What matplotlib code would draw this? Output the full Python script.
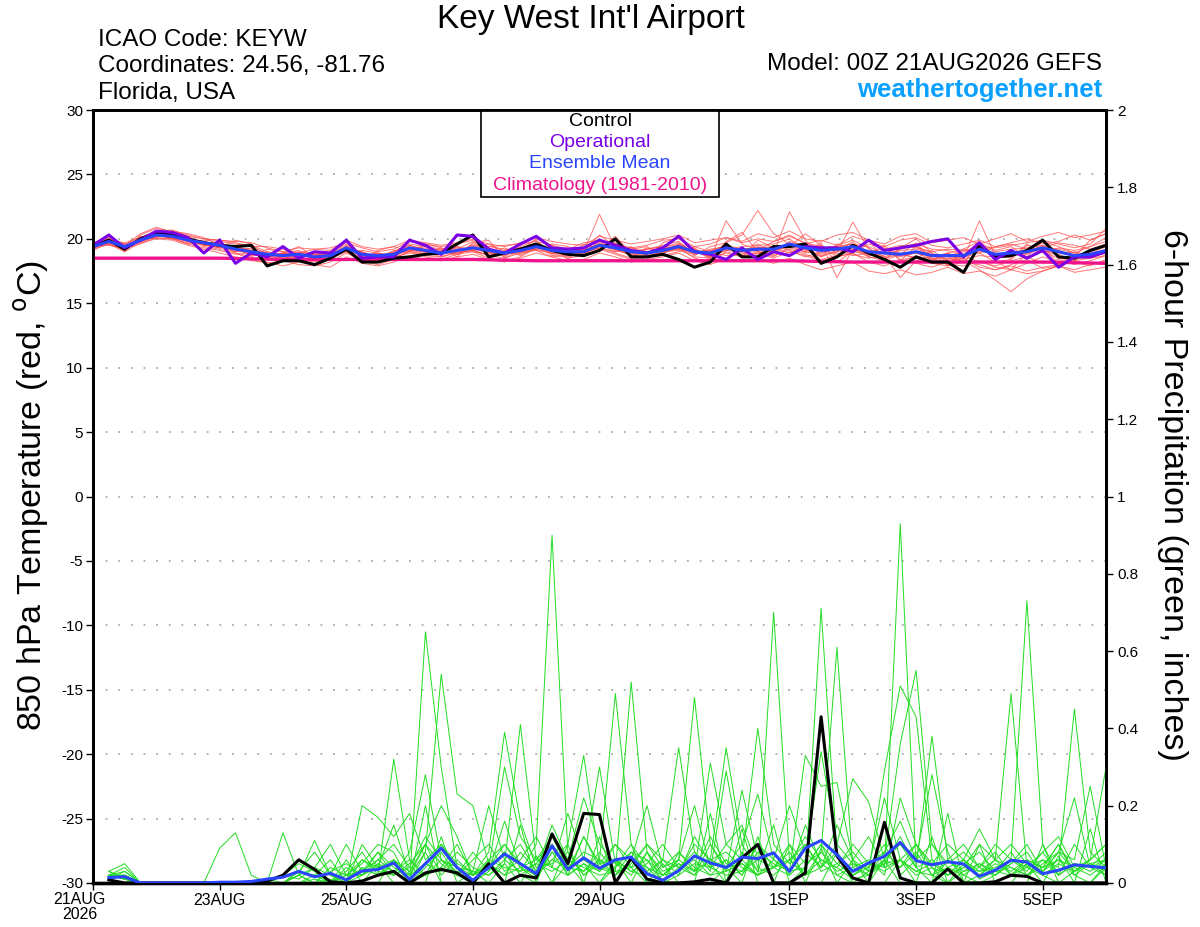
import matplotlib
matplotlib.use('Agg')
import matplotlib.pyplot as plt
import numpy as np
from matplotlib.patches import Rectangle

plt.rcParams['font.family'] = ['Liberation Sans', 'DejaVu Sans']
plt.rcParams['axes.unicode_minus'] = False

# ---------------- data ----------------
tick_days = [0, 2, 4, 6, 8, 11, 13, 15]
tick_labels = ['21AUG\n2026', '23AUG', '25AUG', '27AUG', '29AUG', '1SEP', '3SEP', '5SEP']

control_t = [19.4, 19.9, 19.2, 20.0, 20.5, 20.3, 20.0, 19.7, 19.5, 19.4, 19.5, 17.9, 18.3, 18.3, 18.0, 18.5, 19.2, 18.2, 18.2, 18.5, 18.6, 18.8,
             18.9, 19.6, 20.3, 18.6, 18.9, 19.2, 19.6, 19.1, 18.8, 18.7, 19.1, 20.0, 18.6, 18.6, 18.8, 18.4, 17.8, 18.2, 19.6, 18.6, 18.6,
             19.4, 19.4, 19.6, 18.1, 18.6, 19.5, 18.9, 18.4, 17.8, 18.6, 18.2, 18.2, 17.4, 19.5, 18.6, 18.7, 19.1, 19.9, 18.6, 18.5, 19.1, 19.5]
oper_t = [19.5, 20.3, 19.3, 19.9, 20.6, 20.5, 20.1, 18.9, 19.9, 18.1, 18.9, 18.6, 19.4, 18.5, 19.0, 18.9, 19.9, 18.5, 18.6, 18.6, 19.9, 19.5,
          18.8, 20.3, 20.2, 19.2, 18.9, 19.6, 20.2, 19.3, 19.2, 19.3, 19.9, 19.5, 19.1, 18.9, 19.3, 20.2, 19.0, 18.8, 18.4, 19.3, 18.4,
          19.0, 18.7, 19.4, 19.3, 19.3, 19.0, 19.9, 19.1, 19.3, 19.5, 19.8, 20.0, 18.6, 19.7, 18.4, 19.1, 18.5, 19.1, 17.8, 18.6, 18.6, 19.0]
mean_t = [19.4, 19.8, 19.4, 19.9, 20.3, 20.2, 19.9, 19.7, 19.5, 19.2, 19.0, 18.8, 18.7, 18.8, 18.6, 18.7, 19.3, 18.8, 18.7, 18.8, 19.3, 19.1,
          18.9, 19.1, 19.3, 19.1, 18.9, 19.1, 19.4, 19.1, 19.0, 19.0, 19.5, 19.3, 19.0, 18.9, 19.1, 19.4, 19.0, 18.9, 19.3, 19.1, 19.2,
          19.2, 19.6, 19.3, 19.1, 19.2, 19.4, 19.0, 18.9, 18.8, 19.0, 18.7, 18.7, 18.7, 19.2, 18.8, 18.9, 19.0, 19.3, 19.0, 18.7, 18.8, 19.1]
clim_daily = [18.5, 18.5, 18.5, 18.4, 18.4, 18.4, 18.4, 18.3, 18.3, 18.3, 18.3, 18.3, 18.2, 18.2, 18.2, 18.2, 18.1]

t01 = [19.5, 19.7, 19.3, 20.1, 20.6, 20.3, 19.8, 19.9, 19.8, 19.6, 19.5, 19.0, 18.4, 18.9, 18.9, 18.5, 19.8, 18.6, 18.4, 19.0, 19.6, 19.4,
       19.2, 18.8, 19.6, 19.3, 18.6, 19.4, 19.9, 18.8, 19.2, 18.7, 19.9, 19.6, 18.6, 19.2, 19.5, 19.8, 18.7, 19.4, 19.7, 20.3, 22.2,
       20.4, 19.6, 19.0, 18.8, 19.5, 19.9, 19.3, 18.4, 19.2, 19.5, 18.3, 18.9, 18.1, 19.7, 19.1, 19.4, 18.6, 19.8, 19.4, 18.9, 19.4, 19.8]
t02 = [19.3, 20.0, 19.6, 19.7, 20.2, 20.5, 20.1, 19.4, 19.2, 18.9, 18.6, 19.2, 19.0, 18.5, 18.3, 19.0, 19.1, 19.1, 18.9, 18.5, 19.0, 19.5,
       18.7, 19.4, 19.0, 18.8, 19.3, 18.9, 19.2, 19.6, 19.4, 18.9, 19.3, 19.0, 19.4, 18.6, 18.8, 19.6, 19.3, 18.5, 21.4, 19.6, 19.1,
       19.8, 20.2, 19.7, 19.4, 18.6, 18.9, 19.6, 19.3, 18.4, 18.5, 19.1, 18.3, 18.6, 18.9, 18.2, 18.4, 19.5, 19.0, 18.5, 18.3, 19.0, 19.6]
t03 = [19.6, 19.6, 19.1, 20.0, 20.4, 20.0, 20.2, 19.6, 19.7, 19.3, 19.2, 18.5, 18.9, 19.1, 18.6, 18.3, 19.5, 18.9, 18.5, 19.1, 19.2, 18.8,
       19.3, 19.0, 19.4, 19.6, 19.0, 19.3, 19.5, 18.7, 18.8, 19.3, 19.8, 19.1, 18.8, 19.3, 19.0, 19.1, 19.4, 19.0, 18.7, 18.8, 19.6,
       18.9, 22.1, 19.9, 18.7, 19.0, 19.8, 18.6, 19.2, 18.9, 18.5, 18.6, 18.9, 18.4, 18.7, 18.6, 19.0, 18.8, 19.4, 19.2, 18.9, 18.6, 19.2]
t04 = [19.2, 19.9, 19.5, 20.2, 20.0, 20.1, 19.6, 19.8, 19.3, 19.5, 18.9, 18.7, 18.4, 18.6, 18.8, 18.9, 19.0, 18.5, 18.9, 18.6, 19.4, 18.9,
       18.8, 19.2, 19.8, 18.9, 18.8, 19.0, 19.3, 19.3, 18.9, 19.1, 20.3, 19.4, 19.1, 18.7, 18.9, 19.3, 18.8, 19.2, 19.4, 18.9, 18.8,
       19.5, 19.1, 18.6, 19.0, 19.2, 18.8, 18.5, 18.7, 17.0, 18.3, 18.5, 18.0, 17.9, 18.3, 17.8, 17.6, 18.1, 18.6, 18.2, 18.4, 18.8, 19.0]
t05 = [19.5, 19.8, 19.4, 19.8, 20.3, 20.4, 19.9, 19.7, 19.6, 19.0, 19.3, 18.9, 18.6, 18.8, 18.5, 18.6, 19.6, 18.7, 18.6, 18.9, 19.5, 19.2,
       19.0, 19.3, 19.2, 19.0, 18.7, 19.2, 19.7, 19.0, 19.2, 18.8, 19.5, 19.2, 19.3, 19.0, 19.2, 19.5, 19.1, 18.7, 19.1, 19.3, 19.0,
       18.8, 19.7, 19.2, 19.5, 18.9, 21.3, 19.2, 18.6, 19.1, 19.2, 18.8, 18.7, 19.0, 19.5, 19.0, 19.2, 19.3, 19.5, 19.1, 18.6, 18.9, 19.4]
t06 = [19.4, 19.6, 19.2, 19.9, 20.5, 20.2, 20.0, 19.5, 19.4, 19.1, 18.8, 18.6, 18.8, 18.9, 18.4, 18.8, 19.2, 19.0, 18.6, 18.7, 19.1, 19.0,
       19.1, 18.9, 19.1, 18.7, 19.1, 19.3, 19.1, 18.9, 19.1, 19.2, 19.4, 19.5, 18.9, 19.2, 19.4, 19.2, 18.8, 19.1, 19.5, 18.6, 19.9,
       19.3, 18.9, 19.4, 18.6, 19.6, 19.0, 18.8, 19.5, 18.3, 19.4, 18.9, 18.2, 18.5, 21.4, 18.7, 18.5, 19.6, 18.9, 19.3, 19.1, 19.4, 20.1]
t07 = [19.3, 19.7, 19.5, 20.0, 20.4, 20.0, 19.7, 19.8, 19.5, 19.4, 19.1, 18.9, 18.5, 18.7, 18.6, 18.4, 19.4, 18.8, 18.8, 18.6, 19.3, 19.3,
       18.9, 19.1, 19.5, 19.2, 18.9, 18.8, 19.6, 19.0, 19.0, 18.9, 19.7, 19.2, 18.7, 18.8, 19.3, 19.7, 18.9, 18.8, 19.2, 19.0, 19.3,
       19.0, 19.5, 18.9, 19.2, 18.8, 19.3, 18.7, 18.9, 18.6, 18.9, 18.4, 18.5, 18.3, 17.6, 16.8, 15.9, 16.9, 17.5, 17.9, 18.3, 18.5, 18.7]
t08 = [19.6, 20.1, 19.3, 19.8, 20.2, 20.3, 19.8, 19.6, 19.6, 19.2, 19.0, 18.8, 18.9, 18.6, 18.7, 18.9, 19.3, 18.6, 18.7, 19.0, 19.2, 19.0,
       18.6, 19.0, 19.2, 19.4, 19.2, 18.7, 19.3, 19.2, 18.6, 19.0, 19.6, 19.0, 19.2, 19.4, 18.7, 19.0, 19.2, 18.6, 19.2, 19.4, 19.5,
       19.6, 20.0, 19.1, 19.3, 19.4, 19.6, 19.4, 18.8, 19.4, 19.6, 19.2, 19.1, 18.8, 19.4, 19.3, 19.5, 19.7, 19.9, 19.6, 19.3, 19.6, 20.8]
t09 = [19.4, 19.8, 19.6, 19.9, 20.1, 20.0, 19.9, 19.7, 19.4, 19.3, 18.7, 19.0, 18.8, 19.0, 18.8, 18.6, 19.1, 19.0, 18.5, 18.9, 19.0, 18.8,
       19.0, 19.4, 19.1, 19.0, 18.8, 19.0, 19.4, 19.3, 19.1, 19.2, 19.4, 19.7, 19.0, 18.5, 19.0, 19.6, 18.9, 19.0, 19.3, 19.2, 19.3,
       19.4, 19.3, 19.0, 19.7, 17.0, 19.2, 18.9, 18.5, 18.8, 19.7, 18.4, 18.9, 19.2, 19.0, 18.9, 18.8, 19.0, 19.2, 18.8, 19.0, 18.7, 18.9]
t10 = [19.5, 19.9, 19.2, 20.0, 20.6, 20.3, 19.8, 19.6, 19.5, 19.0, 19.1, 18.8, 18.7, 18.5, 18.9, 18.7, 19.4, 18.9, 18.6, 18.8, 19.5, 19.1,
       18.8, 19.0, 19.4, 18.9, 19.0, 19.2, 19.5, 19.0, 19.3, 19.0, 21.9, 19.3, 19.0, 19.2, 19.4, 19.5, 18.9, 19.1, 19.3, 19.0, 19.1,
       19.0, 19.8, 19.5, 18.9, 19.3, 19.4, 18.9, 19.0, 18.7, 18.9, 18.6, 18.5, 18.8, 19.3, 18.6, 18.7, 18.9, 19.1, 18.7, 18.5, 18.5, 18.9]
t11 = [19.3, 19.9, 19.3, 20.1, 20.4, 20.1, 19.8, 19.5, 19.3, 19.2, 18.9, 18.6, 18.9, 18.7, 18.5, 18.8, 19.1, 18.7, 18.9, 18.7, 19.2, 19.0,
       19.2, 18.8, 19.3, 19.1, 18.9, 19.0, 19.2, 18.9, 18.8, 19.3, 19.5, 19.2, 18.8, 19.0, 19.1, 19.4, 19.0, 18.6, 19.1, 19.0, 19.4,
       19.1, 19.6, 19.2, 18.6, 19.1, 18.7, 18.9, 18.4, 18.2, 18.7, 18.1, 17.9, 18.2, 18.0, 17.6, 17.9, 17.5, 17.8, 18.0, 18.2, 17.9, 18.4]
t12 = [19.5, 19.8, 19.5, 19.9, 20.2, 20.2, 20.0, 19.8, 19.5, 19.3, 19.0, 18.7, 18.6, 18.9, 18.7, 18.6, 19.3, 18.8, 18.7, 18.9, 19.3, 19.1,
       18.9, 19.2, 19.3, 19.1, 18.8, 19.2, 19.5, 19.2, 19.0, 19.1, 19.6, 19.3, 19.1, 18.9, 19.2, 19.3, 19.1, 19.0, 19.5, 19.2, 19.3,
       19.3, 19.5, 19.6, 19.3, 19.4, 19.6, 19.0, 19.2, 19.5, 19.3, 19.0, 19.2, 19.1, 18.9, 19.4, 19.6, 19.2, 19.3, 19.7, 19.5, 19.2, 19.6]
t13 = [19.6, 20.0, 19.0, 20.3, 20.8, 20.6, 20.3, 20.0, 19.9, 19.8, 19.7, 19.3, 19.0, 19.3, 19.2, 19.1, 19.9, 19.4, 19.2, 19.4, 19.9, 19.7,
       19.5, 19.7, 20.0, 19.6, 19.4, 19.7, 20.1, 19.8, 19.6, 19.5, 20.2, 19.9, 19.6, 19.8, 20.0, 20.3, 19.7, 19.9, 20.1, 19.8, 20.4,
       20.1, 20.6, 20.0, 19.8, 20.3, 20.5, 19.9, 19.6, 20.2, 20.4, 19.7, 19.9, 20.1, 19.6, 20.0, 20.4, 19.8, 20.2, 20.5, 20.1, 20.3, 20.6]
t14 = [19.2, 19.6, 19.0, 19.7, 20.0, 19.9, 19.5, 19.2, 18.9, 18.6, 18.3, 18.2, 17.9, 18.2, 18.0, 17.8, 18.6, 18.1, 17.9, 18.2, 18.7, 18.4,
       18.3, 18.6, 18.8, 18.4, 18.2, 18.5, 18.9, 18.6, 18.3, 18.4, 18.9, 18.6, 18.2, 18.4, 18.6, 18.9, 18.3, 18.0, 18.5, 18.2, 18.4,
       18.1, 18.5, 18.0, 17.6, 17.9, 18.2, 17.5, 17.3, 17.6, 17.2, 17.4, 17.8, 17.3, 17.5, 17.1, 17.6, 17.3, 17.5, 17.9, 17.4, 17.6, 17.8]
t15 = [19.7, 20.2, 19.5, 20.4, 20.9, 20.5, 20.1, 19.6, 19.3, 19.9, 19.6, 18.6, 18.9, 19.4, 18.6, 18.9, 19.9, 18.4, 19.1, 19.4, 19.0, 19.6,
       19.3, 18.6, 19.7, 19.9, 18.5, 19.1, 20.0, 19.5, 18.4, 19.6, 19.2, 20.2, 18.9, 18.3, 19.7, 20.1, 19.2, 18.4, 19.8, 20.5, 19.0,
       18.6, 19.4, 20.4, 19.5, 18.2, 19.0, 19.9, 18.4, 19.3, 20.0, 18.9, 17.9, 19.2, 19.8, 18.3, 17.6, 18.9, 19.5, 18.0, 18.6, 19.9, 20.4]
t16 = [19.4, 19.5, 19.3, 19.6, 20.1, 20.6, 20.4, 20.1, 19.5, 18.9, 18.4, 18.1, 18.3, 18.0, 17.9, 18.2, 18.9, 18.3, 18.0, 18.4, 19.1, 18.6,
       18.4, 18.8, 19.0, 18.5, 18.3, 18.6, 19.3, 18.9, 18.5, 18.7, 19.2, 18.8, 18.4, 18.6, 18.9, 19.3, 18.5, 18.2, 19.0, 18.7, 19.0,
       18.7, 19.2, 18.8, 18.4, 18.7, 19.2, 18.6, 18.3, 18.8, 18.5, 18.1, 18.4, 18.7, 18.2, 17.9, 18.3, 18.6, 18.1, 18.4, 18.0, 18.3, 18.7]
t17 = [19.6, 19.9, 19.7, 20.1, 20.5, 20.7, 20.2, 20.0, 19.9, 19.7, 19.4, 19.4, 19.2, 18.9, 19.2, 19.3, 19.7, 19.3, 19.0, 19.2, 19.8, 19.6,
       19.4, 19.6, 19.9, 19.4, 19.5, 19.6, 19.8, 19.5, 19.2, 19.7, 19.9, 19.6, 19.3, 19.5, 19.9, 20.0, 19.4, 19.6, 20.1, 19.7, 20.0,
       19.8, 20.3, 19.6, 19.9, 19.5, 20.2, 19.8, 19.4, 19.9, 20.1, 19.5, 19.3, 19.6, 19.9, 19.4, 19.7, 20.0, 19.6, 19.8, 20.3, 19.9, 20.4]
t18 = [19.1, 19.7, 19.4, 19.8, 20.3, 20.0, 19.6, 19.3, 19.1, 18.8, 18.9, 18.4, 18.6, 18.4, 18.2, 18.5, 19.0, 18.4, 18.3, 18.6, 18.9, 18.7,
       18.6, 18.9, 19.1, 18.7, 18.5, 18.9, 19.1, 18.6, 18.7, 18.9, 19.3, 18.9, 18.5, 18.7, 19.0, 19.2, 18.6, 18.5, 18.9, 18.6, 18.9,
       18.5, 19.0, 18.7, 18.3, 18.6, 18.9, 18.2, 17.9, 18.4, 18.1, 17.8, 18.2, 18.5, 17.8, 17.6, 18.0, 18.4, 17.7, 17.9, 17.6, 18.0, 18.3]
temp_members = [t01, t02, t03, t04, t05, t06, t07, t08, t09, t10, t11, t12, t13, t14, t15, t16, t17, t18]

# 6-hour precipitation (inches), valid from +6h to +384h
control_p = [0.008, 0, 0, 0, 0, 0, 0, 0, 0, 0, 0.005, 0.02, 0.06, 0.035, 0.003, 0,
             0.005, 0.02, 0.03, 0, 0.026, 0.035, 0.026, 0, 0.05, 0, 0.02, 0.013, 0.127, 0.05, 0.18, 0.177,
             0, 0.064, 0.01, 0, 0, 0.003, 0.01, 0, 0.065, 0.1, 0, 0, 0.026, 0.43, 0.07, 0.013,
             0, 0.157, 0.013, 0, 0, 0.036, 0, 0, 0.003, 0.02, 0.017, 0, 0, 0, 0, 0]
mean_p = [0.014, 0.016, 0, 0, 0, 0, 0, 0.002, 0.002, 0.004, 0.01, 0.015, 0.03, 0.016, 0.025, 0.008,
          0.031, 0.035, 0.052, 0.009, 0.05, 0.09, 0.04, 0.007, 0.04, 0.075, 0.05, 0.024, 0.096, 0.035, 0.065, 0.038,
          0.06, 0.067, 0.024, 0.007, 0.032, 0.07, 0.052, 0.04, 0.067, 0.063, 0.078, 0.03, 0.09, 0.11, 0.073, 0.03,
          0.052, 0.069, 0.105, 0.058, 0.047, 0.055, 0.049, 0.017, 0.033, 0.059, 0.054, 0.024, 0.033, 0.047, 0.043, 0.039]

p01 = [.02, .03, 0, 0, 0, 0, 0, 0, 0, 0, 0, .02, .05, .03, 0, .02, .05, .10, .08, 0, .65, .30, .04, 0, .03, .08, .02, 0, .10, .02, .05, 0,
       .04, .10, 0, 0, .02, .12, .05, 0, .08, .03, .15, 0, .04, .10, .02, 0, .03, .05, .12, .04, 0, .06, .02, 0, .02, .05, .08, .02, 0, .03, .05, .02]
p02 = [.01, .02, 0, 0, 0, 0, 0, 0, 0, 0, 0, 0, .03, .08, .02, 0, .10, .04, .15, .02, .08, .54, .23, .20, .05, .02, .04, .01, .08, .02, .12, .04,
       .02, .08, .06, 0, .04, .02, .10, .03, .05, .02, .04, .08, .02, .06, .04, .01, .02, .08, .04, .10, .02, 0, .05, .08, .03, .02, .06, .04, .10, .02, 0, .04]
p03 = [.03, .01, 0, 0, 0, 0, 0, 0, 0, 0, .01, 0, .02, 0, 0, .04, .02, .06, .03, 0, .04, .08, .02, 0, .06, .04, .03, .10, .90, .08, .02, .05,
       .10, .04, 0, .02, .06, .20, .04, .02, .03, .06, .08, .02, .15, .05, .02, .04, .06, .02, .22, .10, .04, 0, .03, .05, .02, .06, .03, .08, .02, .10, .04, .02]
p04 = [.02, .04, 0, 0, 0, 0, 0, 0, 0, 0, 0, .02, .01, .04, .02, 0, .04, .02, .32, .06, .02, .04, .10, .02, .08, .39, .16, .04, .05, .08, .02, .06,
       .49, .10, .04, 0, .08, .04, .02, .06, .02, .10, .04, .06, .02, .08, .03, .05, .04, .10, .02, .06, .28, .08, 0, .02, .06, .04, .02, .05, .08, .03, .06, .10]
p05 = [.01, .02, 0, 0, 0, 0, 0, 0, 0, 0, 0, 0, 0, .02, 0, .03, .08, .02, .05, 0, .02, .10, .05, .03, .02, .05, .41, .06, .12, .04, .03, .08,
       .03, .52, .08, .02, .06, .48, .10, .04, .05, .02, .06, .03, .10, .04, .08, .02, .05, .03, .06, .02, .04, .02, .06, .01, .03, .08, .02, .04, .06, .02, .05, .03]
p06 = [.02, .01, 0, 0, 0, 0, 0, 0, 0, 0, 0, 0, .02, 0, .04, .02, .03, .08, .02, .05, .10, .02, .06, .02, .04, .10, .05, .02, .06, .10, .33, .05,
       .02, .06, .04, .02, .03, .10, .06, .08, .04, .02, .70, .06, .02, .04, .10, .05, .02, .06, .04, .08, .02, .06, .03, .04, .08, .02, .04, .06, .02, .05, .03, .06]
p07 = [.01, .03, 0, 0, 0, 0, 0, 0, 0, 0, 0, 0, 0, .01, 0, 0, .02, .04, .06, .02, .05, .03, .08, .04, .02, .06, .03, .05, .10, .04, .06, .30,
       .05, .02, .08, .03, .05, .02, .06, .04, .10, .03, .04, .06, .02, .71, .08, .02, .05, .04, .93, .04, .06, .02, .04, .03, .06, .02, .05, .03, .06, .04, .02, .05]
p08 = [.02, .02, 0, 0, 0, 0, 0, .09, .13, .02, 0, 0, 0, 0, 0, 0, .04, .02, .06, .03, .10, .05, .02, .06, .10, .03, .06, .12, .04, .02, .05, .03,
       .06, .03, .02, .06, .04, .08, .03, .29, .06, .02, .04, .10, .05, .08, .61, .04, .02, .05, .06, .03, .02, .04, .06, .03, .04, .06, .73, .10, .02, .05, .04, .08]
p09 = [.01, .02, 0, 0, 0, 0, 0, 0, 0, 0, 0, .13, .02, .11, .02, .10, .03, .06, .10, .04, .02, .06, .03, .02, .05, .02, .08, .03, .06, .04, .08, .06,
       .02, .05, .10, .04, .06, .03, .31, .10, .15, .04, .02, .06, .10, .03, .05, .08, .03, .06, .36, .55, .10, .04, .02, .05, .03, .04, .02, .06, .04, .45, .08, .04]
p10 = [.02, .01, 0, 0, 0, 0, 0, 0, 0, 0, 0, 0, 0, 0, .01, 0, .20, .17, .12, .18, .06, .10, .04, .02, .06, .10, .04, .02, .08, .06, .03, .06,
       .04, .08, .03, .06, .02, .05, .04, .06, .02, .08, .05, .03, .33, .25, .26, .06, .03, .29, .51, .43, .06, .02, .04, .10, .06, .49, .04, .02, .05, .03, .06, .30]
p11 = [.03, .05, 0, 0, 0, 0, 0, 0, 0, 0, 0, 0, .03, .02, .06, 0, .06, .03, .02, .04, .12, .06, .02, .08, .03, .16, .04, .06, .10, .03, .12, .05,
       .06, .03, .05, .10, .04, .06, .02, .03, .24, .06, .04, .02, .06, .34, .10, .27, .21, .06, .10, .04, .38, .06, .10, .04, .02, .05, .10, .03, .08, .06, .25, .04]
p12 = [.02, .01, 0, 0, 0, 0, 0, 0, 0, 0, 0, 0, 0, 0, 0, .02, .02, .05, .03, .06, .02, .04, .02, .01, .04, .08, .02, .05, .03, .06, .04, .02,
       .03, .04, .06, .02, .05, .03, .06, .35, .10, .23, .06, .03, .04, .10, .05, .02, .04, .22, .06, .03, .05, .10, .06, .02, .05, .03, .06, .04, .10, .03, .05, .06]
p13 = [.01, .02, 0, 0, 0, 0, 0, 0, 0, 0, 0, 0, 0, 0, 0, 0, 0, 0, .06, 0, 0, .12, 0, 0, 0, 0, .15, 0, 0, .05, 0, 0,
       0, 0, .08, 0, 0, 0, .18, 0, 0, 0, 0, .10, 0, 0, 0, .06, 0, 0, 0, 0, .12, 0, 0, 0, 0, 0, .05, 0, 0, 0, .14, 0]
p14 = [.02, .02, 0, 0, 0, 0, 0, 0, 0, 0, 0, 0, 0, 0, 0, .06, 0, 0, 0, 0, .20, 0, 0, 0, 0, .05, 0, 0, 0, .10, 0, 0,
       .06, 0, 0, 0, 0, 0, 0, .04, 0, .12, 0, 0, 0, 0, .08, 0, 0, 0, .06, 0, 0, 0, 0, .10, 0, 0, 0, 0, .07, 0, 0, 0]
p15 = [.01, .02, 0, 0, 0, 0, 0, 0, 0, 0, 0, 0, .02, .04, .10, .02, .06, .04, .02, .08, .28, .06, .04, .03, .20, .06, .10, .03, .15, .06, .22, .10,
       .05, .04, .10, .06, .35, .08, .04, .10, .06, .40, .10, .05, .12, .06, .04, .10, .05, .08, .16, .06, .10, .05, .08, .04, .10, .06, .04, .08, .12, .04, .06, .10]
p16 = [.02, .01, 0, 0, 0, 0, 0, 0, 0, 0, 0, 0, 0, 0, .03, .05, .02, .08, .04, .02, .10, .20, .12, .02, .04, .30, .12, .06, .04, .18, .06, .03,
       .10, .06, .20, .04, .08, .03, .12, .05, .03, .10, .06, .20, .08, .04, .15, .06, .12, .04, .06, .10, .05, .02, .06, .14, .06, .10, .05, .03, .08, .22, .04, .06]
p17 = [.03, .01, 0, 0, 0, 0, 0, 0, 0, 0, 0, 0, 0, 0, 0, 0, 0, .05, 0, 0, .08, 0, 0, .03, 0, 0, 0, .07, 0, 0, 0, .12,
       0, 0, 0, .05, 0, 0, 0, 0, .14, 0, 0, 0, 0, .09, 0, 0, 0, .06, 0, 0, 0, .18, 0, 0, 0, 0, 0, .10, 0, 0, 0, .05]
precip_members = [p01, p02, p03, p04, p05, p06, p07, p08, p09, p10, p11, p12, p13, p14, p15, p16, p17]

# ---------------- figure ----------------
n_t = len(control_t)
t_days = np.arange(n_t) * 0.25
p_days = np.arange(1, len(control_p) + 1) * 0.25
clim_days = np.arange(len(clim_daily))

fig = plt.figure(figsize=(12, 9.27), dpi=100)
ax = fig.add_axes([0.0775, 0.0475, 0.8442, 0.8338])
ax2 = ax.twinx()

ax.set_xlim(0, 16)
ax.set_ylim(-30, 30)
ax2.set_ylim(0, 2)

for v in range(-25, 30, 5):
    ax.axhline(v, color='#AAAAAA', lw=1.3, ls=(0, (1, 6)), zorder=0)

for m in temp_members:
    if len(m) == n_t:
        ax.plot(t_days, m, color='#FF4A4A', lw=0.7, alpha=0.75, zorder=2)
ax.plot(clim_days, clim_daily, color='#F0148C', lw=2.4, zorder=3)
ax.plot(t_days, control_t, color='black', lw=2.2, zorder=4)
ax.plot(t_days, oper_t, color='#7A00E6', lw=2.2, zorder=5)
ax.plot(t_days, mean_t, color='#2A45FF', lw=2.2, zorder=6)

for m in precip_members:
    if len(m) == len(p_days):
        ax2.plot(p_days, m, color='#22DD22', lw=0.7, zorder=2)
ax2.plot(p_days, control_p, color='black', lw=2.2, zorder=4)
ax2.plot(p_days, mean_p, color='#2A45FF', lw=2.2, zorder=5)

ax.set_yticks(list(range(-30, 31, 5)))
ax.set_yticklabels([str(v) for v in range(-30, 31, 5)], fontsize=11)
pt = [0, 0.2, 0.4, 0.6, 0.8, 1, 1.2, 1.4, 1.6, 1.8, 2]
ax2.set_yticks(pt)
ax2.set_yticklabels(['0', '0.2', '0.4', '0.6', '0.8', '1', '1.2', '1.4', '1.6', '1.8', '2'], fontsize=11)
ax.set_xticks(tick_days)
# first label is drawn separately, shifted slightly left as in the original
ax.set_xticklabels([''] + tick_labels[1:], fontsize=11.5)
ax.annotate(tick_labels[0], xy=(tick_days[0], 0), xycoords=('data', 'axes fraction'),
            xytext=(-9.5, -6.2), textcoords='offset points', ha='center', va='top',
            fontsize=11.5, linespacing=1.0, annotation_clip=False)

for a in (ax, ax2):
    for s in a.spines.values():
        s.set_linewidth(2)
    a.spines['bottom'].set_linewidth(2.4)
ax.tick_params(axis='both', direction='out', length=5, width=1, pad=2)
ax2.tick_params(axis='y', direction='out', length=5, width=1, pad=3)

# legend box
ax.add_patch(Rectangle((0.383, 0.8875), 0.235, 0.1125, transform=ax.transAxes,
                       facecolor='white', edgecolor='black', lw=1.2, zorder=10))
leg = [('Control', 'black'), ('Operational', '#7A00E6'), ('Ensemble Mean', '#2A45FF'),
       ('Climatology (1981-2010)', '#F0148C')]
leg_y = [0.9858, 0.9586, 0.9314, 0.903]
for (txt, col), yy in zip(leg, leg_y):
    ax.text(0.5005, yy, txt, color=col, fontsize=14, ha='center', va='center',
            transform=ax.transAxes, zorder=11)

# header texts
fig.text(0.492, 0.979, "Key West Int'l Airport", fontsize=24, ha='center', va='center')
fig.text(0.0817, 0.9569, 'ICAO Code: KEYW', fontsize=17.5, ha='left', va='center')
fig.text(0.0817, 0.9288, 'Coordinates: 24.56, -81.76', fontsize=17.5, ha='left', va='center')
fig.text(0.0817, 0.8997, 'Florida, USA', fontsize=17.5, ha='left', va='center')
fig.text(0.9183, 0.931, 'Model: 00Z 21AUG2026 GEFS', fontsize=17.5, ha='right', va='center')
fig.text(0.9183, 0.9029, 'weathertogether.net', fontsize=18.5, ha='right', va='center',
         color='#0AA0FF', fontweight='bold')

fig.text(0.026, 0.466, r'850 hPa Temperature (red, $^{\mathrm{o}}$C)', fontsize=24.5,
         rotation=90, ha='center', va='center')
fig.text(0.9767, 0.466, '6-hour Precipitation (green, inches)', fontsize=24.5,
         rotation=-90, ha='center', va='center')

fig.savefig('out.png', dpi=100)
